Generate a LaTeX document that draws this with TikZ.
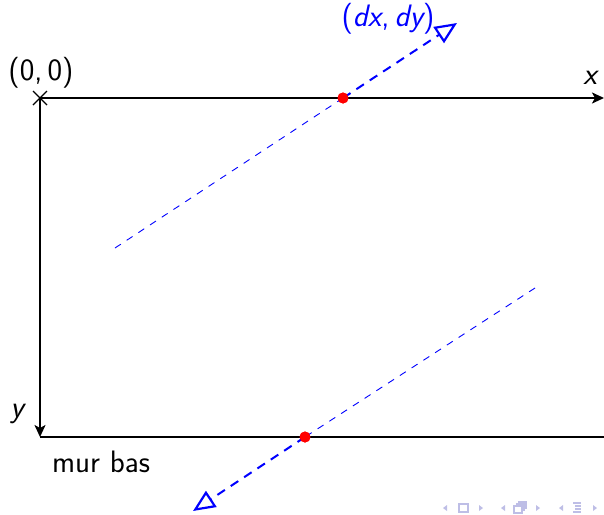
\documentclass[tikz,border=0pt]{standalone}
\usetikzlibrary{arrows.meta}
\definecolor{navc}{RGB}{190,190,230}
\begin{document}
\begin{tikzpicture}[x=1pt,y=-1pt,
  lbl/.style={font=\fontsize{31}{34}\selectfont\sffamily, inner sep=0pt},
  axis/.style={line width=2pt, -{Stealth[length=12pt,width=11pt,inset=3pt]}},
  thind/.style={blue, line width=0.9pt, dash pattern=on 7pt off 7pt},
  thickd/.style={blue, line width=2pt, dash pattern=on 9pt off 7pt, -{Triangle[open,length=22pt,width=19pt,line width=2.2pt]}},
  dot/.style={circle, fill=red, inner sep=0pt, minimum size=11pt},
  nav/.style={navc, line width=1.1pt}]
\useasboundingbox (0,0) rectangle (604,514);
\coordinate (O) at (40,98);
\coordinate (X) at (604,98);
\coordinate (Y) at (40,437);
\coordinate (B) at (604,437);
\coordinate (U0) at (115,248);
\coordinate (U2) at (457,23);
\coordinate (L0) at (535,288);
\coordinate (L2) at (193,511);
\node[dot] (U1) at (343,98) {};
\node[dot] (L1) at (305,437) {};
% axes
\draw[axis] (O) -- (X);
\draw[axis] (O) -- (Y);
\draw[line width=1.2pt] (Y) -- (B);
\draw[line width=1.2pt] (33,91) -- (47,105) (33,105) -- (47,91);
% dashed lines
\draw[thind] (U0) -- (U1.center);
\draw[thickd] (U1.center) -- (U2);
\draw[thind] (L0) -- (L1.center);
\draw[thickd] (L1.center) -- (L2);
\node[dot] at (U1) {};
\node[dot] at (L1) {};
% labels
\node[lbl] (o) at (41,73) {(0,\,0)};
\node[lbl] (xl) at (590,78) {\slshape x};
\node[lbl] (yl) at (17,414) {\slshape y};
\node[lbl] (mb) at (101,462) {mur bas};
\node[lbl, text=blue] (d) at (388,19) {(\slshape dx\upshape,\,\slshape dy\upshape)};
% navigation symbols
\fill[navc] (447,505) -- (443,508) -- (447,511) -- cycle;
\draw[nav] (459,504) rectangle (468,512);
\fill[navc] (479,505) -- (483,508) -- (479,511) -- cycle;
\fill[navc] (505,505) -- (501,508) -- (505,511) -- cycle;
\draw[nav] (514,506) rectangle (522,513);
\draw[nav] (516,504) -- (524,504) -- (524,511);
\draw[nav] (518,502) -- (526,502) -- (526,509);
\fill[navc] (536,505) -- (540,508) -- (536,511) -- cycle;
\fill[navc] (563,505) -- (559,508) -- (563,511) -- cycle;
\draw[nav] (573,503) -- (581,503) (575,506) -- (581,506) (575,509) -- (581,509) (573,512) -- (581,512);
\fill[navc] (593,505) -- (597,508) -- (593,511) -- cycle;
\end{tikzpicture}
\end{document}
